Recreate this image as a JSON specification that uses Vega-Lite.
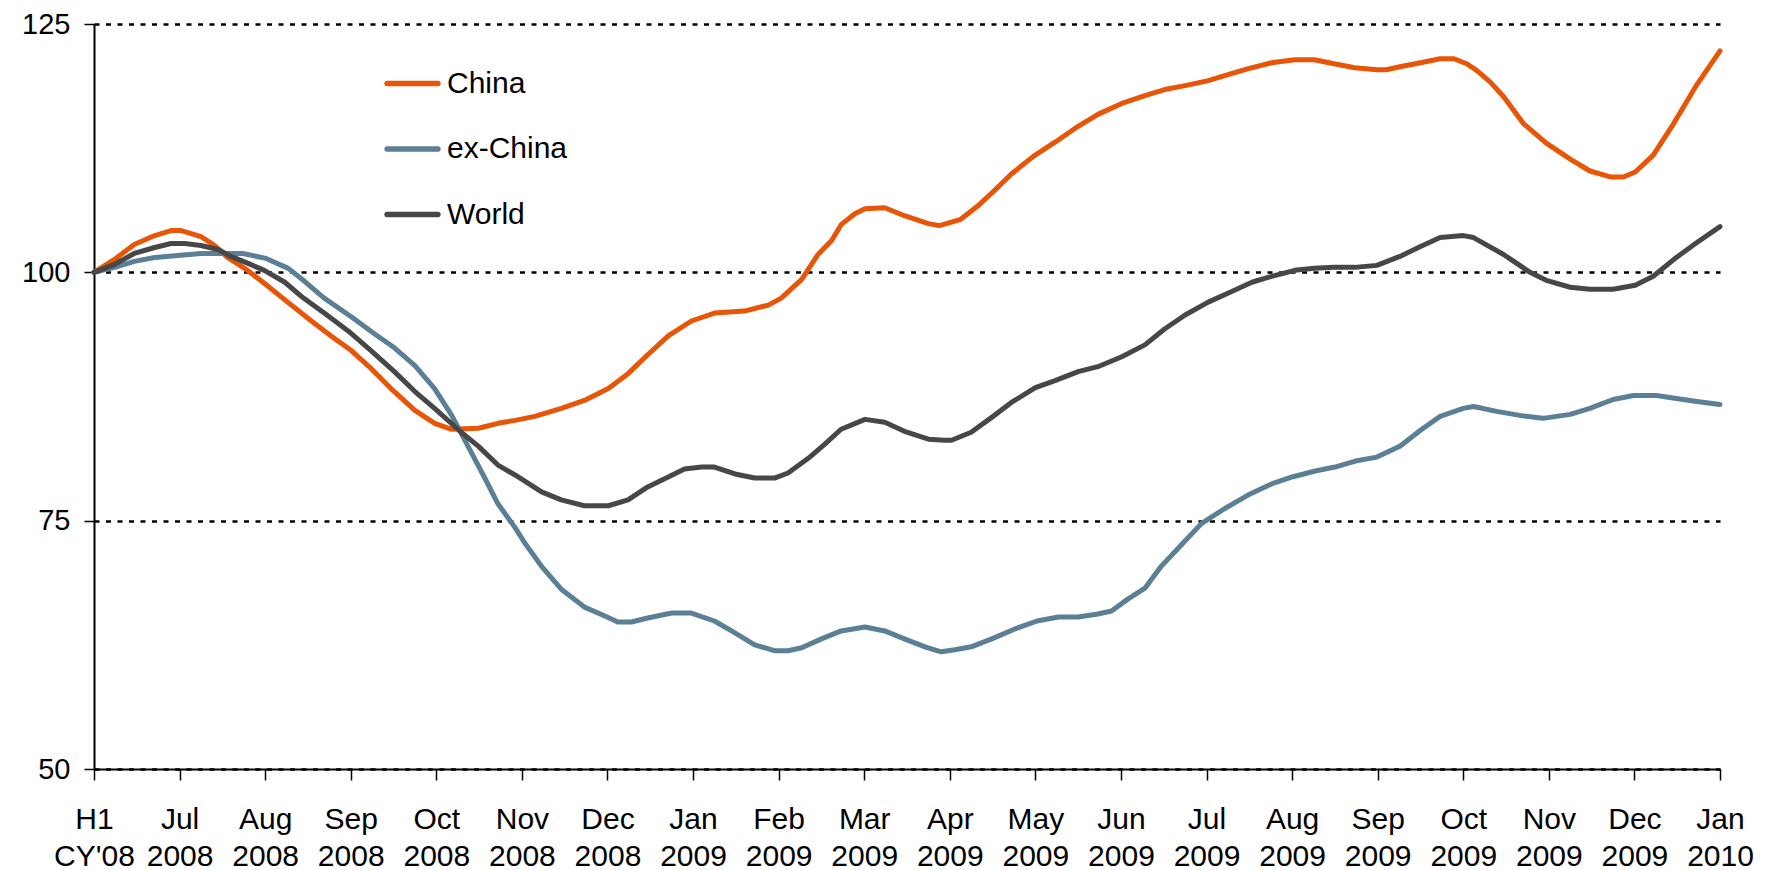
{
  "$schema": "https://vega.github.io/schema/vega-lite/v6.json",
  "width": 1626,
  "height": 745,
  "autosize": {"type": "none"},
  "padding": {"left": 94, "top": 24, "right": 51, "bottom": 101},
  "background": "white",
  "config": {
    "view": {"stroke": null},
    "font": "Liberation Sans"
  },
  "datasets": {
    "china": [
      {"t":0,"v":100},{"t":0.24,"v":101.3},{"t":0.47,"v":102.8},{"t":0.71,"v":103.7},{"t":0.9,"v":104.2},{"t":1.02,"v":104.2},{"t":1.25,"v":103.6},{"t":1.41,"v":102.7},{"t":1.56,"v":101.5},{"t":1.76,"v":100.4},{"t":1.99,"v":98.9},{"t":2.27,"v":96.95},{"t":2.54,"v":95.1},{"t":2.77,"v":93.6},{"t":3.01,"v":92.1},{"t":3.24,"v":90.3},{"t":3.47,"v":88.3},{"t":3.75,"v":86.1},{"t":3.98,"v":84.8},{"t":4.18,"v":84.2},{"t":4.49,"v":84.3},{"t":4.72,"v":84.8},{"t":4.92,"v":85.1},{"t":5.15,"v":85.5},{"t":5.46,"v":86.3},{"t":5.73,"v":87.1},{"t":6.01,"v":88.3},{"t":6.24,"v":89.8},{"t":6.47,"v":91.7},{"t":6.71,"v":93.6},{"t":6.98,"v":95.1},{"t":7.25,"v":95.9},{"t":7.6,"v":96.1},{"t":7.88,"v":96.7},{"t":8.03,"v":97.4},{"t":8.27,"v":99.3},{"t":8.46,"v":101.8},{"t":8.62,"v":103.2},{"t":8.73,"v":104.8},{"t":8.89,"v":105.9},{"t":9.01,"v":106.4},{"t":9.24,"v":106.5},{"t":9.47,"v":105.7},{"t":9.75,"v":104.9},{"t":9.88,"v":104.7},{"t":10.12,"v":105.3},{"t":10.33,"v":106.7},{"t":10.53,"v":108.3},{"t":10.72,"v":109.9},{"t":10.98,"v":111.7},{"t":11.23,"v":113.1},{"t":11.5,"v":114.7},{"t":11.73,"v":115.9},{"t":12.01,"v":117.0},{"t":12.28,"v":117.8},{"t":12.51,"v":118.4},{"t":12.75,"v":118.8},{"t":13.02,"v":119.3},{"t":13.25,"v":119.9},{"t":13.49,"v":120.5},{"t":13.76,"v":121.1},{"t":14.03,"v":121.4},{"t":14.26,"v":121.4},{"t":14.49,"v":121.0},{"t":14.73,"v":120.6},{"t":14.99,"v":120.4},{"t":15.1,"v":120.4},{"t":15.26,"v":120.7},{"t":15.5,"v":121.1},{"t":15.73,"v":121.5},{"t":15.89,"v":121.5},{"t":16.04,"v":121.0},{"t":16.16,"v":120.3},{"t":16.31,"v":119.2},{"t":16.47,"v":117.7},{"t":16.7,"v":115.0},{"t":16.97,"v":113.0},{"t":17.25,"v":111.4},{"t":17.48,"v":110.2},{"t":17.72,"v":109.6},{"t":17.87,"v":109.6},{"t":18.01,"v":110.1},{"t":18.22,"v":111.8},{"t":18.46,"v":115.0},{"t":18.73,"v":118.9},{"t":19.0,"v":122.3}
    ],
    "exchina": [
      {"t":0,"v":100},{"t":0.24,"v":100.5},{"t":0.47,"v":101.1},{"t":0.71,"v":101.5},{"t":0.98,"v":101.7},{"t":1.25,"v":101.9},{"t":1.53,"v":101.9},{"t":1.74,"v":101.9},{"t":2.01,"v":101.4},{"t":2.27,"v":100.4},{"t":2.46,"v":99.1},{"t":2.69,"v":97.4},{"t":3.01,"v":95.5},{"t":3.28,"v":93.8},{"t":3.51,"v":92.4},{"t":3.75,"v":90.6},{"t":3.98,"v":88.3},{"t":4.18,"v":85.6},{"t":4.37,"v":82.5},{"t":4.56,"v":79.4},{"t":4.72,"v":76.7},{"t":4.92,"v":74.3},{"t":5.03,"v":72.8},{"t":5.23,"v":70.4},{"t":5.46,"v":68.1},{"t":5.73,"v":66.3},{"t":5.97,"v":65.4},{"t":6.12,"v":64.8},{"t":6.28,"v":64.8},{"t":6.47,"v":65.2},{"t":6.75,"v":65.7},{"t":6.98,"v":65.7},{"t":7.25,"v":64.9},{"t":7.49,"v":63.7},{"t":7.72,"v":62.5},{"t":7.96,"v":61.9},{"t":8.11,"v":61.9},{"t":8.27,"v":62.2},{"t":8.5,"v":63.1},{"t":8.73,"v":63.9},{"t":9.01,"v":64.3},{"t":9.24,"v":63.9},{"t":9.47,"v":63.1},{"t":9.71,"v":62.3},{"t":9.9,"v":61.8},{"t":10.06,"v":62.0},{"t":10.25,"v":62.3},{"t":10.49,"v":63.1},{"t":10.76,"v":64.1},{"t":11.02,"v":64.9},{"t":11.27,"v":65.3},{"t":11.5,"v":65.3},{"t":11.73,"v":65.6},{"t":11.89,"v":65.9},{"t":12.08,"v":67.1},{"t":12.28,"v":68.2},{"t":12.47,"v":70.4},{"t":12.71,"v":72.6},{"t":12.94,"v":74.7},{"t":13.21,"v":76.2},{"t":13.49,"v":77.6},{"t":13.76,"v":78.7},{"t":14.0,"v":79.4},{"t":14.27,"v":80.0},{"t":14.5,"v":80.4},{"t":14.74,"v":81.0},{"t":14.99,"v":81.4},{"t":15.26,"v":82.5},{"t":15.5,"v":84.1},{"t":15.73,"v":85.5},{"t":16.0,"v":86.3},{"t":16.12,"v":86.5},{"t":16.39,"v":86.0},{"t":16.66,"v":85.6},{"t":16.93,"v":85.3},{"t":17.25,"v":85.7},{"t":17.48,"v":86.3},{"t":17.75,"v":87.2},{"t":17.99,"v":87.6},{"t":18.26,"v":87.6},{"t":18.49,"v":87.3},{"t":18.73,"v":87.0},{"t":19.0,"v":86.7}
    ],
    "world": [
      {"t":0,"v":100},{"t":0.24,"v":100.8},{"t":0.47,"v":101.9},{"t":0.71,"v":102.5},{"t":0.9,"v":102.9},{"t":1.06,"v":102.9},{"t":1.25,"v":102.7},{"t":1.45,"v":102.3},{"t":1.6,"v":101.6},{"t":1.8,"v":100.9},{"t":1.99,"v":100.2},{"t":2.23,"v":99.0},{"t":2.42,"v":97.6},{"t":2.69,"v":95.9},{"t":2.97,"v":94.1},{"t":3.24,"v":92.1},{"t":3.51,"v":90.0},{"t":3.75,"v":88.0},{"t":3.98,"v":86.3},{"t":4.29,"v":83.9},{"t":4.49,"v":82.5},{"t":4.72,"v":80.6},{"t":4.92,"v":79.6},{"t":5.23,"v":77.9},{"t":5.46,"v":77.1},{"t":5.73,"v":76.5},{"t":6.01,"v":76.5},{"t":6.24,"v":77.1},{"t":6.47,"v":78.4},{"t":6.71,"v":79.4},{"t":6.9,"v":80.2},{"t":7.1,"v":80.4},{"t":7.25,"v":80.4},{"t":7.49,"v":79.7},{"t":7.72,"v":79.3},{"t":7.96,"v":79.3},{"t":8.11,"v":79.8},{"t":8.35,"v":81.3},{"t":8.54,"v":82.7},{"t":8.73,"v":84.2},{"t":9.01,"v":85.2},{"t":9.24,"v":84.9},{"t":9.47,"v":84.0},{"t":9.75,"v":83.2},{"t":9.94,"v":83.1},{"t":10.02,"v":83.1},{"t":10.25,"v":83.9},{"t":10.49,"v":85.4},{"t":10.72,"v":86.9},{"t":11.0,"v":88.4},{"t":11.23,"v":89.1},{"t":11.5,"v":90.0},{"t":11.73,"v":90.5},{"t":12.01,"v":91.5},{"t":12.28,"v":92.7},{"t":12.51,"v":94.3},{"t":12.75,"v":95.7},{"t":13.02,"v":97.0},{"t":13.25,"v":97.9},{"t":13.53,"v":99.0},{"t":13.76,"v":99.6},{"t":14.03,"v":100.2},{"t":14.26,"v":100.4},{"t":14.49,"v":100.5},{"t":14.73,"v":100.5},{"t":14.99,"v":100.7},{"t":15.26,"v":101.6},{"t":15.5,"v":102.6},{"t":15.73,"v":103.5},{"t":16.0,"v":103.7},{"t":16.12,"v":103.5},{"t":16.47,"v":101.8},{"t":16.78,"v":100.0},{"t":16.97,"v":99.2},{"t":17.25,"v":98.5},{"t":17.48,"v":98.3},{"t":17.75,"v":98.3},{"t":18.01,"v":98.7},{"t":18.22,"v":99.6},{"t":18.49,"v":101.5},{"t":18.73,"v":103.0},{"t":19.0,"v":104.6}
    ]
  },
  "layer": [
    {"data": {"name": "china"}, "transform": [{"calculate": "'China'", "as": "series"}], "mark": {"type": "line", "strokeWidth": 5, "strokeJoin": "round", "strokeCap": "round"}, "encoding": {
      "x": {"field": "t", "type": "quantitative"},
      "y": {"field": "v", "type": "quantitative"},
      "color": {"field": "series", "type": "nominal"}
    }},
    {"data": {"name": "exchina"}, "transform": [{"calculate": "'ex-China'", "as": "series"}], "mark": {"type": "line", "strokeWidth": 5, "strokeJoin": "round", "strokeCap": "round"}, "encoding": {
      "x": {"field": "t", "type": "quantitative"},
      "y": {"field": "v", "type": "quantitative"},
      "color": {"field": "series", "type": "nominal"}
    }},
    {"data": {"name": "world"}, "transform": [{"calculate": "'World'", "as": "series"}], "mark": {"type": "line", "strokeWidth": 5, "strokeJoin": "round", "strokeCap": "round"}, "encoding": {
      "x": {"field": "t", "type": "quantitative", "scale": {"domain": [0, 19], "nice": false, "zero": false},
        "axis": {"title": null, "values": [0,1,2,3,4,5,6,7,8,9,10,11,12,13,14,15,16,17,18,19], "grid": false,
          "labelExpr": "split([\"H1|CY'08\",'Jul|2008','Aug|2008','Sep|2008','Oct|2008','Nov|2008','Dec|2008','Jan|2009','Feb|2009','Mar|2009','Apr|2009','May|2009','Jun|2009','Jul|2009','Aug|2009','Sep|2009','Oct|2009','Nov|2009','Dec|2009','Jan|2010'][datum.value], '|')",
          "labelFont": "Liberation Sans", "labelFontSize": 30, "labelColor": "black", "labelLineHeight": 37, "labelBaseline": "top",
          "labelPadding": 24, "tickSize": 11, "tickColor": "black", "tickWidth": 1.5, "domainColor": "black", "domainWidth": 2,
          "labelFlush": false, "labelOverlap": false, "labelBound": false}},
      "y": {"field": "v", "type": "quantitative", "scale": {"domain": [50, 125], "nice": false, "zero": false},
        "axis": {"title": null, "values": [50, 75, 100, 125], "grid": true, "gridColor": "black", "gridDash": [5, 6.5], "gridWidth": 2.5, "gridOpacity": 1,
          "labelFont": "Liberation Sans", "labelFontSize": 29, "labelColor": "black", "labelPadding": 14, "tickSize": 10, "tickColor": "black", "tickWidth": 1.5,
          "domainColor": "black", "domainWidth": 2, "labelFlush": false}},
      "color": {"field": "series", "type": "nominal",
        "scale": {"domain": ["China", "ex-China", "World"], "range": ["#E95506", "#5B7F95", "#474747"]},
        "legend": {"title": null, "orient": "none", "legendX": 290, "legendY": 31, "padding": 0,
          "symbolType": "stroke", "symbolSize": 2601, "symbolStrokeWidth": 5.3, "symbolOpacity": 1,
          "labelFont": "Liberation Sans", "labelFontSize": 30, "labelColor": "black", "labelOffset": 6, "rowPadding": 21.5,
          "encode": {"symbols": {"update": {"strokeCap": {"value": "round"}}}}}}
    }}
  ]
}
